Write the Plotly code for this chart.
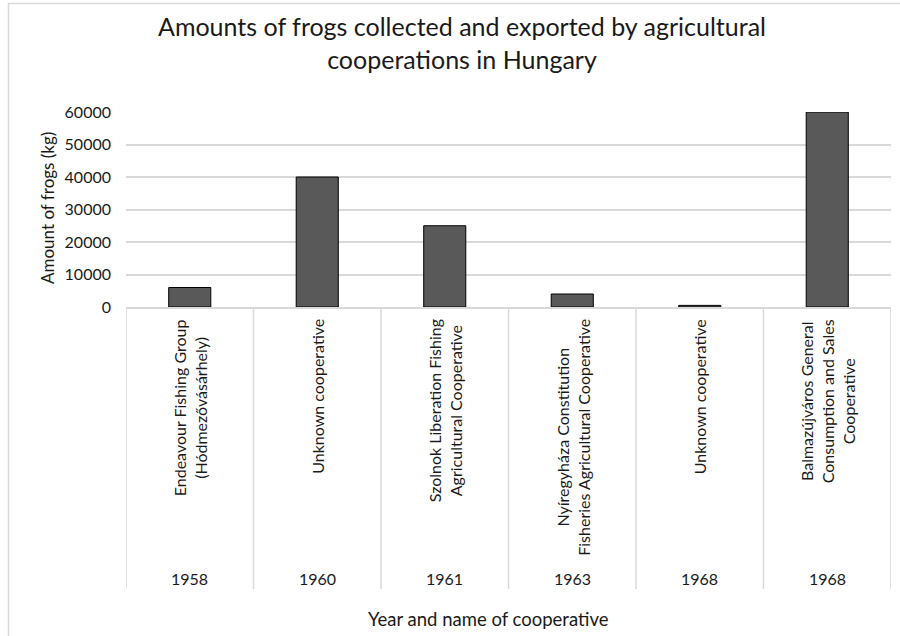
import plotly.graph_objects as go

years = ["1958", "1960", "1961", "1963", "1968", "1968"]
names = [
    "Endeavour Fishing Group<br>(Hódmezővásárhely)",
    "Unknown cooperative",
    "Szolnok Liberation Fishing<br>Agricultural Cooperative",
    "Nyíregyháza Constitution<br>Fisheries Agricultural Cooperative",
    "Unknown cooperative",
    "Balmazújváros General<br>Consumption and Sales<br>Cooperative",
]
amounts = [6000, 40000, 25000, 4000, 500, 60000]

title_text = "Amounts of frogs collected and exported by agricultural<br>cooperations in Hungary"
y_title = "Amount of frogs (kg)"
x_title = "Year and name of cooperative"

FONT = "Lato"
TXT = "#1a1a1a"
GRID = "#d9d9d9"

W, H = 900, 636
L, R, T, B = 126, 9, 112, 329
pw, ph = W - L - R, H - T - B

def px_x(x):
    return (x - L) / pw

def px_y(y):
    return (H - B - y) / ph

xs = list(range(len(names)))

fig = go.Figure()
fig.add_trace(go.Bar(
    x=xs, y=amounts, width=0.33,
    marker=dict(color="#595959", line=dict(color="#000000", width=1)),
    hoverinfo="y",
))

annotations = []
shapes = []
for i, (yr, nm) in enumerate(zip(years, names)):
    annotations.append(dict(
        x=i, xref="x", y=px_y(317), yref="paper", text=nm, textangle=-90,
        showarrow=False, xanchor="center", yanchor="top", align="center",
        font=dict(family=FONT, size=16, color=TXT),
    ))
    annotations.append(dict(
        x=i, xref="x", y=px_y(578.5), yref="paper", text=yr,
        showarrow=False, xanchor="center", yanchor="middle",
        font=dict(family=FONT, size=16, color=TXT),
    ))
for i in range(len(names) + 1):
    shapes.append(dict(
        type="line", xref="x", yref="paper", x0=i - 0.5, x1=i - 0.5,
        y0=0, y1=px_y(589), line=dict(color=GRID, width=1.5),
    ))

annotations.append(dict(
    x=px_x(462), xref="paper", y=px_y(42.5), yref="paper", text=title_text,
    showarrow=False, xanchor="center", yanchor="middle", align="center",
    font=dict(family=FONT, size=25, color=TXT),
))
annotations.append(dict(
    x=px_x(47), xref="paper", y=px_y(208), yref="paper", text=y_title,
    textangle=-90, showarrow=False, xanchor="center", yanchor="middle",
    font=dict(family=FONT, size=17, color=TXT),
))
annotations.append(dict(
    x=px_x(488), xref="paper", y=px_y(619), yref="paper", text=x_title,
    showarrow=False, xanchor="center", yanchor="middle",
    font=dict(family=FONT, size=18.5, color=TXT),
))

# outer chart border
shapes.append(dict(
    type="rect", xref="paper", yref="paper",
    x0=px_x(8.5), x1=px_x(940), y0=px_y(700), y1=px_y(3.5),
    line=dict(color=GRID, width=1.5), fillcolor="rgba(0,0,0,0)", layer="below",
))

fig.update_layout(
    width=W, height=H,
    margin=dict(l=L, r=R, t=T, b=B, pad=0),
    paper_bgcolor="white", plot_bgcolor="white",
    showlegend=False,
    annotations=annotations, shapes=shapes,
    font=dict(family=FONT, color=TXT),
    xaxis=dict(
        range=[-0.5, len(names) - 0.5], showticklabels=False, showgrid=False,
        zeroline=False, showline=True, linecolor=GRID, linewidth=1.5, ticks="",
        fixedrange=True,
    ),
    yaxis=dict(
        range=[0, 60000], dtick=10000, showgrid=True, gridcolor=GRID, gridwidth=1.5,
        zeroline=False, showline=False, ticks="", ticklabelstandoff=14,
        tickfont=dict(family=FONT, size=16, color=TXT), tickformat="d",
        fixedrange=True,
    ),
)

fig.write_html("out.html")
